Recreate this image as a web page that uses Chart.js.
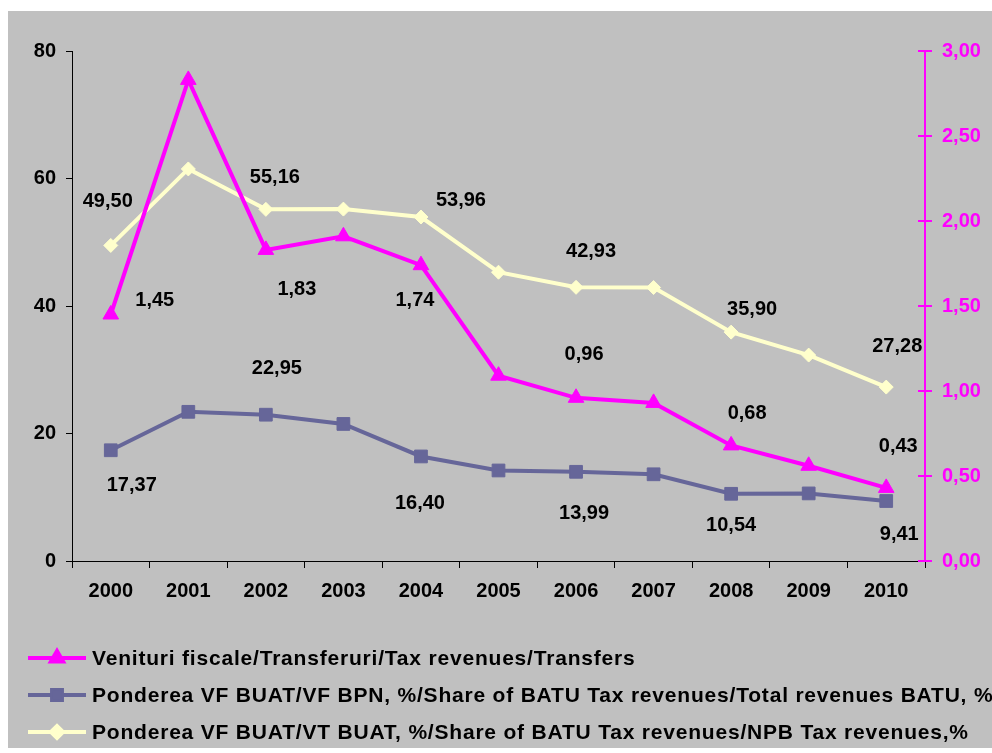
<!DOCTYPE html>
<html lang="ro">
<head>
    <meta charset="UTF-8">
    <title>Venituri fiscale BUAT 2000-2010</title>
    <script src="https://cdn.jsdelivr.net/npm/chart.js"></script>
    <style>
        body {
            margin: 0;
            background-color: #ffffff;
        }
        .wrap {
            width: 992px;
            height: 753px;
        }
    </style>
</head>
<body>
    <div class="wrap">
        <canvas id="lineChart" width="992" height="753"></canvas>
    </div>

    <script>
        // data
        const years = ['2000', '2001', '2002', '2003', '2004', '2005', '2006', '2007', '2008', '2009', '2010'];
        const taxTransfers = [1.45, 2.83, 1.83, 1.91, 1.74, 1.09, 0.96, 0.93, 0.68, 0.56, 0.43];
        const shareTotal = [17.37, 23.4, 22.95, 21.5, 16.40, 14.2, 13.99, 13.6, 10.54, 10.6, 9.41];
        const shareNpb = [49.50, 61.5, 55.16, 55.2, 53.96, 45.3, 42.93, 42.9, 35.90, 32.3, 27.28];
        const leftTicks = [0, 20, 40, 60, 80];
        const rightTicks = [0, 0.5, 1, 1.5, 2, 2.5, 3];

        const seriesNames = [
            'Venituri fiscale/Transferuri/Tax revenues/Transfers',
            'Ponderea VF BUAT/VF BPN, %/Share of BATU Tax revenues/Total revenues BATU, %',
            'Ponderea VF BUAT/VT BUAT, %/Share of BATU Tax revenues/NPB Tax revenues,%'
        ];

        const FONT = 'Arial, "Liberation Sans", sans-serif';
        const comma = v => v.toFixed(2).replace('.', ',');

        // grey panel behind everything
        const panelBg = {
            id: 'panelBg',
            beforeDraw(chart) {
                const ctx = chart.ctx;
                ctx.save();
                ctx.fillStyle = '#ffffff';
                ctx.fillRect(0, 0, chart.width, chart.height);
                ctx.fillStyle = '#c0c0c0';
                ctx.fillRect(8, 11, chart.width - 8, 737);
                ctx.restore();
            }
        };

        // value labels beside chosen points (offsets are per point, in px)
        const valueLabels = {
            id: 'valueLabels',
            afterDatasetsDraw(chart) {
                const ctx = chart.ctx;
                ctx.save();
                ctx.font = 'bold 20px ' + FONT;
                ctx.fillStyle = '#000000';
                ctx.textAlign = 'center';
                ctx.textBaseline = 'middle';
                chart.data.datasets.forEach((ds, i) => {
                    const meta = chart.getDatasetMeta(i);
                    ds.labelOffsets.forEach((off, j) => {
                        if (!off) return;
                        const pt = meta.data[j];
                        ctx.fillText(comma(ds.data[j]), pt.x + off[0], pt.y + off[1]);
                    });
                });
                ctx.restore();
            }
        };

        // inner half of the right axis ticks + legend with line and marker
        const extras = {
            id: 'extras',
            afterDraw(chart) {
                const ctx = chart.ctx;
                const y1 = chart.scales.y1;
                ctx.save();
                ctx.strokeStyle = '#ff00ff';
                ctx.lineWidth = 2;
                y1.ticks.forEach(t => {
                    const y = y1.getPixelForValue(t.value);
                    ctx.beginPath();
                    ctx.moveTo(y1.left - 7, y);
                    ctx.lineTo(y1.left, y);
                    ctx.stroke();
                });

                ctx.font = 'bold 21px ' + FONT;
                ctx.letterSpacing = '0.8px';
                ctx.textBaseline = 'middle';
                ctx.textAlign = 'left';
                chart.data.datasets.forEach((ds, i) => {
                    const y = 658 + i * 37;
                    ctx.strokeStyle = ds.borderColor;
                    ctx.lineWidth = 4;
                    ctx.beginPath();
                    ctx.moveTo(28, y);
                    ctx.lineTo(86, y);
                    ctx.stroke();
                    Chart.helpers.drawPoint(ctx, {
                        pointStyle: ds.pointStyle,
                        radius: ds.legendRadius,
                        borderWidth: 1
                    }, 57, y);
                    ctx.fillStyle = ds.borderColor;
                    ctx.fill();
                    ctx.fillStyle = '#000000';
                    ctx.fillText(seriesNames[i], 92, y + 1);
                });
                ctx.restore();
            }
        };

        const ctx = document.getElementById('lineChart').getContext('2d');
        new Chart(ctx, {
            type: 'line',
            data: {
                labels: years,
                datasets: [{
                    label: seriesNames[0],
                    data: taxTransfers,
                    yAxisID: 'y1',
                    borderColor: '#ff00ff',
                    backgroundColor: '#ff00ff',
                    borderWidth: 4,
                    pointStyle: 'triangle',
                    pointRadius: 9,
                    pointBorderWidth: 1,
                    legendRadius: 7,
                    tension: 0,
                    labelOffsets: [[44, -14], null, [31, 40], null, [-6, 35], null, [8, -43], null, [16, -32], null, [12, -41]]
                }, {
                    label: seriesNames[1],
                    data: shareTotal,
                    yAxisID: 'y',
                    borderColor: '#666699',
                    backgroundColor: '#666699',
                    borderWidth: 4,
                    pointStyle: 'rect',
                    pointRadius: 9,
                    pointBorderWidth: 1,
                    legendRadius: 7,
                    tension: 0,
                    labelOffsets: [[21, 35], null, [11, -46], null, [-1, 47], null, [8, 42], null, [0, 32], null, [13, 33]]
                }, {
                    label: seriesNames[2],
                    data: shareNpb,
                    yAxisID: 'y',
                    borderColor: '#ffffcc',
                    backgroundColor: '#ffffcc',
                    borderWidth: 4,
                    pointStyle: 'rectRot',
                    pointRadius: 7,
                    pointBorderWidth: 1,
                    legendRadius: 6,
                    tension: 0,
                    labelOffsets: [[-3, -44], null, [9, -32], null, [40, -17], null, [15, -36], null, [21, -23], null, [11, -41]]
                }]
            },
            options: {
                responsive: false,
                animation: false,
                layout: {
                    padding: { left: 12, right: 0, top: 51, bottom: 152 }
                },
                plugins: {
                    legend: { display: false },
                    tooltip: { enabled: false }
                },
                scales: {
                    x: {
                        offset: true,
                        grid: {
                            offset: true,
                            drawOnChartArea: false,
                            tickLength: 7,
                            color: '#000000'
                        },
                        border: { color: '#000000', width: 1 },
                        ticks: {
                            color: '#000000',
                            font: { family: FONT, size: 20, weight: 'bold' },
                            padding: 11,
                            maxRotation: 0
                        },
                        afterFit(scale) { scale.height = 40; }
                    },
                    y: {
                        position: 'left',
                        min: 0,
                        max: 80,
                        afterBuildTicks(scale) { scale.ticks = leftTicks.map(v => ({ value: v })); },
                        grid: {
                            drawOnChartArea: false,
                            tickLength: 6,
                            color: '#000000'
                        },
                        border: { color: '#000000', width: 1 },
                        ticks: {
                            color: '#000000',
                            font: { family: FONT, size: 20, weight: 'bold' },
                            padding: 10
                        },
                        afterFit(scale) { scale.width = 60; }
                    },
                    y1: {
                        position: 'right',
                        min: 0,
                        max: 3,
                        afterBuildTicks(scale) { scale.ticks = rightTicks.map(v => ({ value: v })); },
                        grid: {
                            drawOnChartArea: false,
                            tickLength: 7,
                            color: '#ff00ff',
                            lineWidth: 2
                        },
                        border: { color: '#ff00ff', width: 2 },
                        ticks: {
                            color: '#ff00ff',
                            font: { family: FONT, size: 20, weight: 'bold' },
                            padding: 10,
                            callback: v => comma(v)
                        },
                        afterFit(scale) { scale.width = 67; }
                    }
                }
            },
            plugins: [panelBg, valueLabels, extras]
        });
    </script>
</body>
</html>
